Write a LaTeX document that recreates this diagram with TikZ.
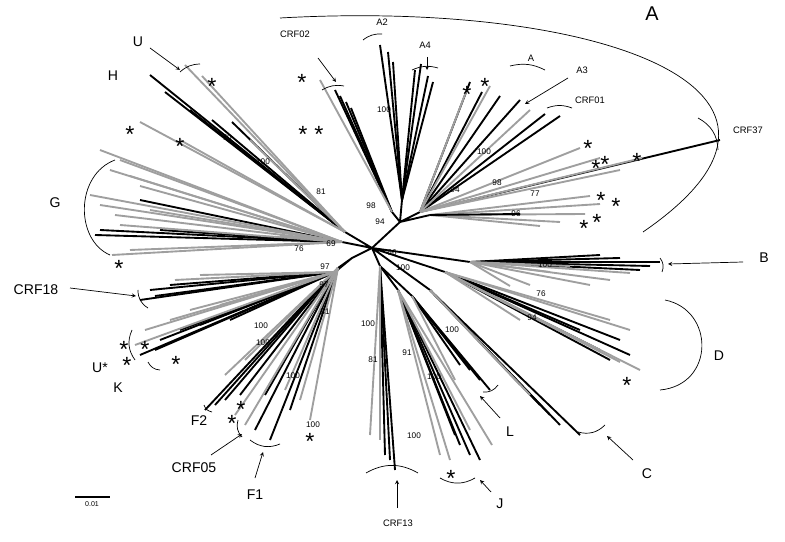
\documentclass[tikz,border=0pt]{standalone}
\usepackage{fontspec}
\setmainfont{Liberation Sans}
\usetikzlibrary{arrows,calc}
\begin{document}
\begin{tikzpicture}[x=0.03cm,y=-0.03cm,
  blk/.style={black,line width=1.6pt},
  gry/.style={gray!75,line width=1.6pt},
  bs/.style={font=\fontsize{7}{8}\selectfont},
  lab/.style={font=\fontsize{12}{14}\selectfont},
  slab/.style={font=\fontsize{8}{9}\selectfont},
  star/.style={font=\fontsize{20}{20}\selectfont},
  brk/.style={black,line width=0.6pt},
  arr/.style={->,>=stealth,line width=0.6pt}]
\useasboundingbox (0,0) rectangle (785,542);

% backbone
\coordinate (root) at (372,248);
\coordinate (nA) at (400,222);
\coordinate (nAii) at (402,200);
\coordinate (nCrfii) at (392,212);
\coordinate (nAi) at (420,212);
\coordinate (nAiii) at (430,215);
\coordinate (nH) at (345,232);
\coordinate (nG) at (342,242);
\coordinate (nL) at (352,258);
\coordinate (nK) at (335,272);
\coordinate (nF) at (338,268);
\coordinate (nS) at (380,266);
\coordinate (nJ) at (398,290);
\coordinate (nLL) at (412,296);
\coordinate (nC) at (430,290);
\coordinate (nD) at (445,272);
\coordinate (nB) at (470,262);
\draw[blk] (root) -- (nA) -- (nAii) (nA) -- (nCrfii) (nA) -- (nAi) (nA) -- (nAiii);
\draw[blk] (root) -- (nH) (root) -- (nG) (root) -- (nL) -- (nK) (nL) -- (nF);
\draw[blk] (root) -- (nS) -- (nJ) (nS) -- (nLL) (root) -- (nC) (root) -- (nD) (root) -- (nB);

% A2 / A4
\foreach \p in {(380,45),(388,52),(393,62),(415,70),(421,64),(428,76),(433,82)}
  \draw[blk] (nAii) -- \p;
% CRF02
\foreach \p in {(335,90),(340,96),(346,102),(351,108)} \draw[blk] (nCrfii) -- \p;
\draw[gry] (nCrfii) -- (320,80);
% A1, A3, CRF01
\foreach \p in {(470,82),(482,92),(500,96),(520,100),(545,114),(560,116),(720,140)}
  \draw[blk] (nAi) -- \p;
\foreach \p in {(466,92),(490,86),(530,110),(580,148),(600,158),(642,158),(620,170)}
  \draw[gry] (nAi) -- \p;
\foreach \p in {(590,196),(600,204),(585,214),(560,222),(540,226)} \draw[gry] (nAiii) -- \p;
\draw[blk] (nAiii) -- (520,214);
% H, U
\foreach \p in {(150,75),(165,92),(190,110),(212,120),(232,122)} \draw[blk] (nH) -- \p;
\foreach \p in {(185,65),(202,76),(140,122),(180,140),(250,140)} \draw[gry] (nH) -- \p;
% G
\foreach \p in {(95,235),(100,230),(140,200),(160,230)} \draw[blk] (nG) -- \p;
\foreach \p in {(100,150),(120,160),(110,170),(130,176),(140,186),(90,195),(100,205),(115,215),
  (120,225),(150,210),(112,255),(130,250),(280,236)} \draw[gry] (nG) -- \p;
% CRF18, U*, K
\foreach \p in {(140,300),(150,290),(155,296),(170,285),(140,355),(155,350),(160,340),(180,330),(200,325),(230,320)}
  \draw[blk] (nK) -- \p;
\foreach \p in {(175,280),(200,275),(135,345),(145,330),(170,320),(190,310),(220,305)}
  \draw[gry] (nK) -- \p;
% F1, F2, CRF05
\foreach \p in {(205,410),(215,405),(225,400),(240,395),(255,430),(270,440),(290,410),(265,395)}
  \draw[blk] (nF) -- \p;
\foreach \p in {(235,415),(245,425),(310,420),(300,400),(285,390),(225,375),(245,360)}
  \draw[gry] (nF) -- \p;
% CRF13, J, L
\foreach \p in {(395,470),(390,460),(385,455)} \draw[blk] (nS) -- \p;
\foreach \p in {(380,440),(370,435)} \draw[gry] (nS) -- \p;
\foreach \p in {(480,460),(470,455),(460,445),(455,435)} \draw[blk] (nJ) -- \p;
\foreach \p in {(440,455),(450,460),(492,445),(470,430)} \draw[gry] (nJ) -- \p;
\foreach \p in {(490,390),(480,380),(470,370),(460,365)} \draw[blk] (nLL) -- \p;
\draw[gry] (nLL) -- (455,380);
% C, D, B
\foreach \p in {(580,435),(560,425),(550,415),(540,405)} \draw[blk] (nC) -- \p;
\foreach \p in {(530,395),(520,385)} \draw[gry] (nC) -- \p;
\foreach \p in {(610,360),(600,350),(630,355),(620,340),(580,330)} \draw[blk] (nD) -- \p;
\foreach \p in {(640,370),(620,362),(590,345),(560,330),(520,320),(610,320),(630,330)} \draw[gry] (nD) -- \p;
\foreach \p in {(660,262),(650,266),(640,270),(620,258),(600,255)} \draw[blk] (nB) -- \p;
\foreach \p in {(630,273),(610,280),(590,285),(570,266),(550,272),(530,285),(510,286)} \draw[gry] (nB) -- \p;

% bootstrap values
\foreach \x/\y/\t in {227/138/70,263/162/100,321/192/81,299/249/76,331/244/69,384/110/100,
  371/206/98,380/222/94,484/152/100,497/183/98,455/190/94,535/194/77,516/214/96,392/253/66,
  403/268/100,325/267/97,324/285/97,261/326/100,325/312/81,263/343/100,293/376/100,313/425/100,
  368/324/100,373/360/81,407/353/91,434/377/100,414/436/100,452/330/100,545/265/100,
  541/294/76,532/318/94}
  \node[bs] at (\x,\y) {\t};

% stars
\foreach \x/\y in {212/82,302/78,467/90,485/82,130/130,180/142,303/130,319/130,588/144,
  605/160,596/164,637/157,601/196,616/202,597/218,584/224,119/264,124/345,127/361,145/345,
  176/360,241/405,232/419,310/437,627/381,451/474}
  \node[star] at (\x,\y+4) {*};

% brackets
\draw[brk] (180,72) to[bend left=20] (200,64);
\draw[brk] (322,90) to[bend left=20] (344,86);
\draw[brk] (363,40) to[bend left=20] (382,34);
\draw[brk] (412,70) to[bend left=20] (438,68);
\draw[brk] (510,66) to[bend left=20] (545,70);
\draw[brk] (547,108) to[bend left=20] (572,108);
\draw[brk] (698,118) to[bend left=30] (718,150);
\draw[brk] (115,160) .. controls (75,175) and (75,240) .. (110,255);
\draw[brk] (138,290) to[bend right=30] (148,308);
\draw[brk] (132,330) to[bend right=30] (135,360);
\draw[brk] (148,362) to[bend right=30] (160,370);
\draw[brk] (204,405) to[bend right=30] (212,412);
\draw[brk] (238,420) to[bend right=30] (242,437);
\draw[brk] (250,440) to[bend right=30] (280,444);
\draw[brk] (366,473) to[bend left=30] (418,473);
\draw[brk] (440,478) to[bend right=30] (475,478);
\draw[brk] (483,392) to[bend right=30] (498,385);
\draw[brk] (578,432) to[bend right=30] (605,425);
\draw[brk] (660,258) to[bend left=30] (662,272);
\draw[brk] (665,300) .. controls (715,310) and (715,385) .. (660,390);
\draw[brk] (280,18) .. controls (600,0) and (850,90) .. (643,232);

% arrows
\draw[arr] (150,48) -- (180,70);
\draw[arr] (318,58) -- (336,82);
\draw[arr] (427,57) -- (427,70);
\draw[arr] (568,78) -- (525,104);
\draw[arr] (743,262) -- (668,264);
\draw[arr] (70,288) -- (136,296);
\draw[arr] (211,455) -- (242,434);
\draw[arr] (255,478) -- (263,452);
\draw[arr] (397,508) -- (397,480);
\draw[arr] (491,492) -- (480,480);
\draw[arr] (500,418) -- (480,396);
\draw[arr] (633,460) -- (607,436);

% labels
\node[lab] at (138,42) {U};
\node[lab] at (113,76) {H};
\node[lab] at (55,203) {G};
\node[lab] at (36,290) {CRF18};
\node[lab] at (100,368) {U*};
\node[lab] at (118,388) {K};
\node[lab] at (199,421) {F2};
\node[lab] at (194,468) {CRF05};
\node[lab] at (255,495) {F1};
\node[slab] at (398,523) {CRF13};
\node[lab] at (500,504) {J};
\node[lab] at (510,432) {L};
\node[lab] at (647,474) {C};
\node[lab] at (719,356) {D};
\node[lab] at (764,258) {B};
\node[slab] at (295,34) {CRF02};
\node[slab] at (382,22) {A2};
\node[slab] at (425,45) {A4};
\node[slab] at (531,58) {A};
\node[slab] at (582,70) {A3};
\node[slab] at (590,100) {CRF01};
\node[slab] at (748,130) {CRF37};
\node[font=\fontsize{17}{18}\selectfont] at (652,14) {A};

% scale bar
\draw[line width=1.2pt] (75,497) -- (110,497);
\node[font=\fontsize{6}{7}\selectfont] at (92,504) {0.01};
\end{tikzpicture}
\end{document}
